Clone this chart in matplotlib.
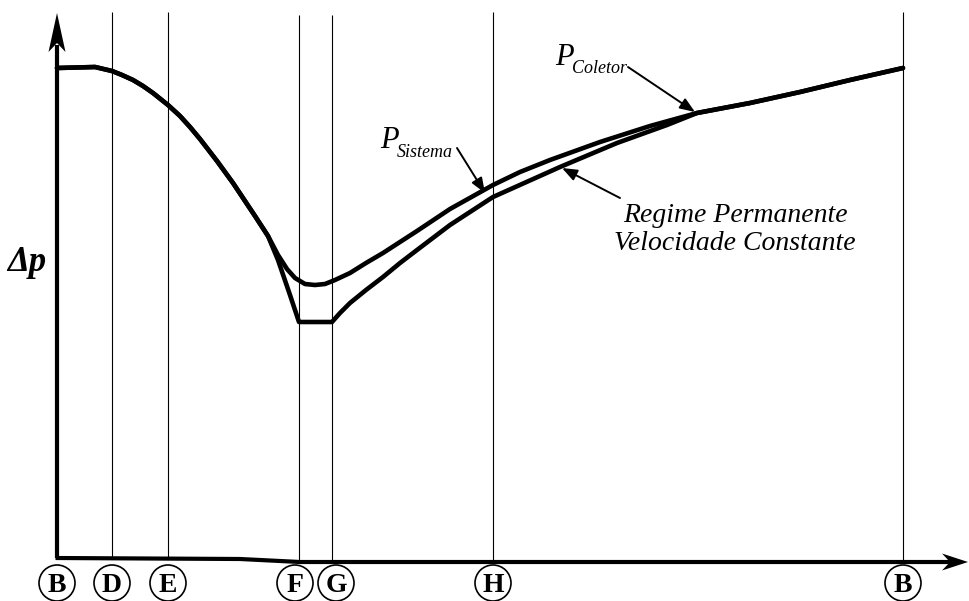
import matplotlib
matplotlib.use("Agg")
import matplotlib.pyplot as plt
from matplotlib.patches import Circle, Polygon

# Cycle stations along the horizontal axis
station_labels = ["B", "D", "E", "F", "G", "H", "B"]
station_x = [57, 112, 168, 299, 332, 493, 903]

# P_Sistema curve (position along cycle, pressure difference)
sistema_x = [57, 95, 112, 122, 133, 143, 153, 168, 180, 190, 200, 217, 233,
             243, 255, 268, 278, 287, 295, 305, 315, 325, 335, 350, 366, 383,
             400, 417, 450, 493, 520, 550, 600, 650, 697, 750, 800, 850, 903]
sistema_dp = [533, 534, 530, 526, 521, 515, 508, 496, 485, 474, 462, 440, 418,
              403, 385, 365, 346, 332, 323, 317, 316, 317, 321, 328, 338, 348,
              359, 370, 392, 416, 429, 441, 459, 475, 488, 498, 509, 521, 533]

# Steady-state (constant speed) curve
regime_x = [57, 95, 112, 122, 133, 143, 153, 168, 180, 190, 200, 217, 233,
            243, 255, 268, 278, 290, 299, 332, 340, 350, 366, 383, 400, 417,
            450, 493, 560, 617, 667, 697, 750, 800, 850, 903]
regime_dp = [533, 534, 530, 526, 521, 515, 508, 496, 485, 474, 462, 440, 418,
             403, 385, 365, 341, 306, 279, 279, 288, 298, 311, 324, 338, 351,
             376, 404, 434, 458, 476, 488, 498, 509, 521, 533]

W, H = 969, 601
fig = plt.figure(figsize=(W / 100, H / 100), dpi=100)
ax = fig.add_axes([0, 0, 1, 1])
ax.set_xlim(0, W)
ax.set_ylim(0, H)
ax.axis("off")

serif = "Liberation Serif"

# vertical station lines
for i, x in enumerate(station_x[1:], start=1):
    top = 601 - (15 if station_labels[i] in ("F", "G") else 12)
    ax.plot([x, x], [601 - 558 - (3 if x > 250 else 0), top], color="black", lw=0.8,
            solid_capstyle="butt")

# axes
y_ax_x = station_x[0]
ax.plot([y_ax_x, y_ax_x], [601 - 558, 601 - 45], color="black", lw=3,
        solid_capstyle="butt")
ax.add_patch(Polygon([[y_ax_x, 601 - 13], [y_ax_x - 8.5, 601 - 52],
                      [y_ax_x, 601 - 43], [y_ax_x + 8.5, 601 - 52]],
                     closed=True, color="black", lw=0))
ax.plot([y_ax_x - 1.5, 240, 300, 950], [601 - 558, 601 - 559, 601 - 562, 601 - 562],
        color="black", lw=3, solid_capstyle="butt", solid_joinstyle="round")
ax.add_patch(Polygon([[968, 601 - 562], [942, 601 - 553.5],
                      [950, 601 - 562], [942, 601 - 570.5]],
                     closed=True, color="black", lw=0))

# curves
ax.plot(regime_x, regime_dp, color="black", lw=3.3, solid_joinstyle="round",
        solid_capstyle="round")
ax.plot(sistema_x, sistema_dp, color="black", lw=3.3, solid_joinstyle="round",
        solid_capstyle="round")

# station markers below the axis
label_shift = {3: -4, 4: 4}
for i, (lab, x) in enumerate(zip(station_labels, station_x)):
    cx = x + label_shift.get(i, 0)
    cy = 601 - 583
    ax.add_patch(Circle((cx, cy), 18, fill=False, edgecolor="black", lw=1.2))
    ax.text(cx, cy, lab, family=serif, weight="bold", fontsize=20,
            ha="center", va="center_baseline")

# axis label
ax.text(7, 601 - 271, "Δp", family=serif, weight="bold", style="italic",
        fontsize=25, ha="left", va="baseline")

# curve labels
ax.text(380, 601 - 148, "P", family=serif, style="italic", fontsize=22,
        ha="left", va="baseline")
ax.text(397, 601 - 157, "Sistema", family=serif, style="italic", fontsize=13,
        ha="left", va="baseline")
ax.annotate("", xy=(485, 601 - 193), xytext=(457, 601 - 148),
            arrowprops=dict(arrowstyle="-|>,head_length=0.9,head_width=0.35",
                            color="black", lw=1.4, shrinkA=0, shrinkB=0))

ax.text(555, 601 - 65, "P", family=serif, style="italic", fontsize=22,
        ha="left", va="baseline")
ax.text(572, 601 - 73, "Coletor", family=serif, style="italic", fontsize=13,
        ha="left", va="baseline")
ax.annotate("", xy=(695, 601 - 112), xytext=(628, 601 - 67),
            arrowprops=dict(arrowstyle="-|>,head_length=0.9,head_width=0.35",
                            color="black", lw=1.4, shrinkA=0, shrinkB=0))

ax.text(735, 601 - 222, "Regime Permanente", family=serif, style="italic",
        fontsize=20, ha="center", va="baseline")
ax.text(735, 601 - 250, "Velocidade Constante", family=serif, style="italic",
        fontsize=20, ha="center", va="baseline")
ax.annotate("", xy=(562, 601 - 168), xytext=(620, 601 - 198),
            arrowprops=dict(arrowstyle="-|>,head_length=0.9,head_width=0.35",
                            color="black", lw=1.4, shrinkA=0, shrinkB=0))

fig.savefig("out.png", dpi=100, facecolor="white")
